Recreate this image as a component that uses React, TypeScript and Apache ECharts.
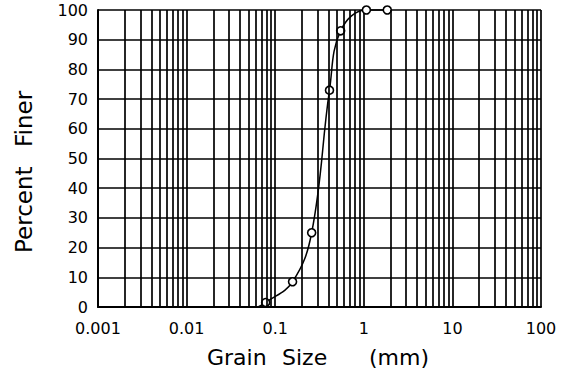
import React, { useEffect, useRef } from "react";
import * as echarts from "echarts";

const grainSizes = [0.064, 0.078, 0.157, 0.258, 0.41, 0.548, 1.07, 1.84];
const percentFiner = [0, 1.5, 8.5, 25, 73, 93, 100, 100];
const markedPoints = [false, true, true, true, true, true, true, true];
const xTickLabels = ["0.001", "0.01", "0.1", "1", "10", "100"];
const decades = [0.001, 0.01, 0.1, 1, 10];
const minorMultiples = [2, 3, 4, 5, 6, 7, 8, 9];

export default function App() {
  const ref = useRef<HTMLDivElement>(null);
  useEffect(() => {
    if (!ref.current) return;
    const chart = echarts.init(ref.current, undefined, { renderer: "svg" });
    const minorLines: any[] = [];
    decades.forEach((d) =>
      minorMultiples.forEach((m) => {
        const v = +(d * m).toPrecision(3);
        minorLines.push([{ coord: [v, 0] }, { coord: [v, 100] }]);
      })
    );
    const font = "DejaVu Sans";
    chart.setOption({
      animation: false,
      grid: { left: 98, right: 23, top: 10, bottom: 69 },
      xAxis: {
        type: "log",
        logBase: 10,
        min: 0.001,
        max: 100,
        axisLine: { show: true, lineStyle: { color: "#000", width: 2 } },
        axisTick: { show: false },
        splitLine: { show: true, lineStyle: { color: "#000", width: 1.7 } },
        axisLabel: {
          color: "#000",
          fontFamily: font,
          fontSize: 16,
          margin: 13,
          formatter: (v: number) => xTickLabels[Math.round(Math.log10(v)) + 3] ?? "",
        },
      },
      yAxis: {
        type: "value",
        min: 0,
        max: 100,
        interval: 10,
        axisLine: { show: true, lineStyle: { color: "#000", width: 2 } },
        axisTick: { show: false },
        splitLine: { show: true, lineStyle: { color: "#000", width: 1.7 } },
        axisLabel: { color: "#000", fontFamily: font, fontSize: 16, margin: 10 },
      },
      graphic: [
        { type: "text", left: 207, top: 346, style: { text: "Grain", font: `22px '${font}'`, fill: "#000" } },
        { type: "text", left: 282, top: 346, style: { text: "Size", font: `22px '${font}'`, fill: "#000" } },
        { type: "text", left: 369, top: 346, style: { text: "(mm)", font: `22px '${font}'`, fill: "#000" } },
        {
          type: "text",
          x: 12,
          y: 253,
          rotation: Math.PI / 2,
          style: { text: "Percent", font: `23px '${font}'`, fill: "#000", align: "left", verticalAlign: "top" },
        },
        {
          type: "text",
          x: 12,
          y: 147,
          rotation: Math.PI / 2,
          style: { text: "Finer", font: `23px '${font}'`, fill: "#000", align: "left", verticalAlign: "top" },
        },
      ],
      series: [
        {
          type: "line",
          smooth: 0.4,
          symbol: "circle",
          symbolSize: 8,
          showAllSymbol: true,
          clip: false,
          lineStyle: { color: "#000", width: 1.5 },
          itemStyle: { color: "#fff", borderColor: "#000", borderWidth: 1.6 },
          data: grainSizes.map((g, i) => ({
            value: [g, percentFiner[i]],
            symbol: markedPoints[i] ? "circle" : "none",
          })),
          markLine: {
            silent: true,
            symbol: ["none", "none"],
            label: { show: false },
            lineStyle: { color: "#000", width: 1.7, type: "solid" },
            data: minorLines,
          },
          z: 3,
        },
      ],
    });
    return () => chart.dispose();
  }, []);
  return (
    <div
      ref={ref}
      style={{ position: "fixed", left: 0, top: 0, width: 564, height: 376, background: "#fff" }}
    />
  );
}
